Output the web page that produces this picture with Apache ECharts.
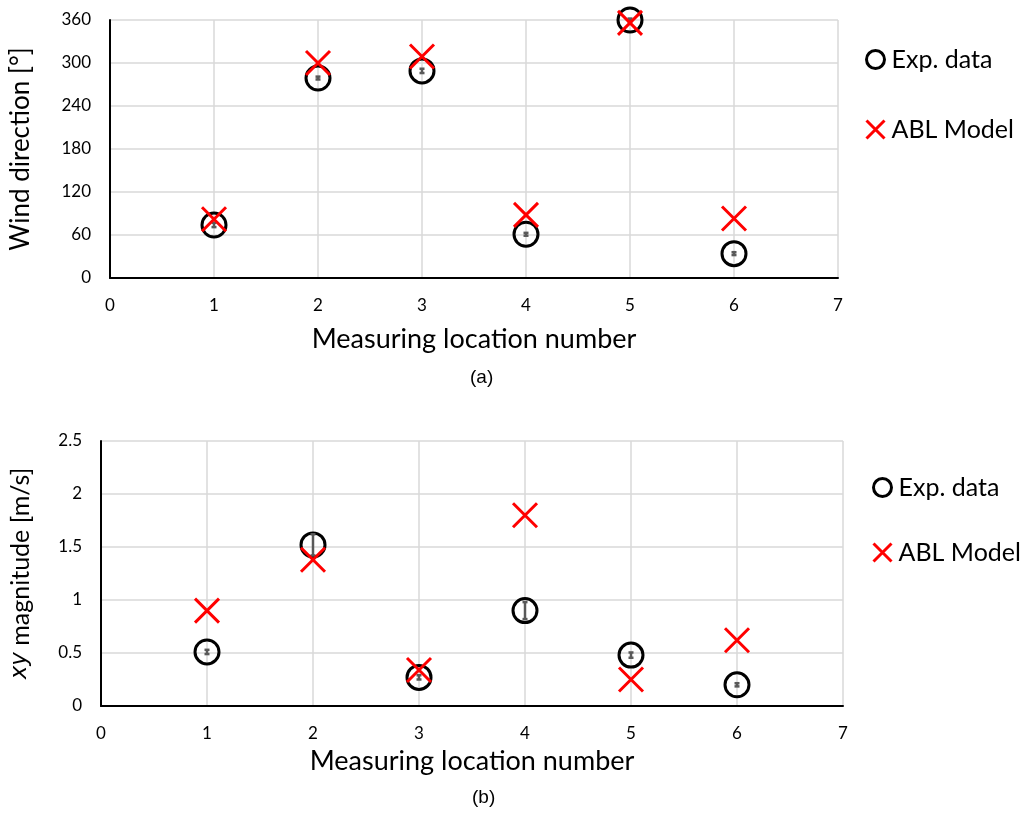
<!DOCTYPE html>
<html>
<head>
<meta charset="utf-8">
<script src="https://cdn.jsdelivr.net/npm/echarts@6/dist/echarts.min.js"></script>
<style>
  html, body { margin: 0; padding: 0; background: #fff; }
  #chart { width: 1035px; height: 814px; }
</style>
</head>
<body>
<div id="chart"></div>
<script>
// measuring locations
const locations = [1, 2, 3, 4, 5, 6]

// (a) wind direction [deg]
const dirExp = [74, 279, 289, 61, 360, 34]
const dirExpErr = [3, 2, 3, 2, 2, 2]
const dirModel = [82, 300, 309, 88, 356, 83]

// (b) xy magnitude [m/s]
const magExp = [0.51, 1.52, 0.27, 0.90, 0.48, 0.20]
const magExpErr = [0.02, 0.1, 0.02, 0.08, 0.025, 0.015]
const magModel = [0.90, 1.38, 0.34, 1.80, 0.25, 0.62]

const FONT = 'Lato'
const CROSS = 'path://M0,0L20,20M20,0L0,20'

const pairs = (ys) => locations.map((x, i) => [x, ys[i]])
const errPairs = (ys, es) => locations.map((x, i) => [x, ys[i] - es[i], ys[i] + es[i]])

function renderErr(params, api) {
  const x = api.value(0)
  const lo = api.coord([x, api.value(1)])
  const hi = api.coord([x, api.value(2)])
  const style = { stroke: '#595959', lineWidth: 2.5 }
  const cap = 2.5
  return {
    type: 'group',
    children: [
      { type: 'line', shape: { x1: lo[0], y1: lo[1], x2: hi[0], y2: hi[1] }, style },
      { type: 'line', shape: { x1: lo[0] - cap, y1: lo[1], x2: lo[0] + cap, y2: lo[1] }, style },
      { type: 'line', shape: { x1: hi[0] - cap, y1: hi[1], x2: hi[0] + cap, y2: hi[1] }, style },
    ],
  }
}

const xAxisBase = {
  type: 'value', min: 0, max: 7, interval: 1,
  name: 'Measuring location number', nameLocation: 'middle',
  nameTextStyle: { fontFamily: FONT, fontSize: 27, color: '#000' },
  axisLine: { show: true, onZero: false, lineStyle: { color: '#000', width: 2 } },
  axisTick: { show: false },
  axisLabel: { fontFamily: FONT, fontSize: 17, color: '#000', margin: 19 },
  splitLine: { show: true, lineStyle: { color: '#d9d9d9', width: 1.5 } },
}
const yAxisBase = {
  type: 'value', nameLocation: 'middle', nameRotate: 90,
  axisLine: { show: true, lineStyle: { color: '#000', width: 2 } },
  axisTick: { show: false },
  axisLabel: { fontFamily: FONT, fontSize: 17, color: '#000', margin: 19 },
  splitLine: { show: true, lineStyle: { color: '#d9d9d9', width: 1.5 } },
}

const expStyle = { color: 'transparent', borderColor: '#000', borderWidth: 3, opacity: 1 }
const modelStyle = { color: '#ff0000', borderColor: '#ff0000', borderWidth: 3, opacity: 1 }

function legendItem(name, left, top) {
  const isExp = name === 'Exp. data'
  return {
    left, top, orient: 'vertical', itemWidth: 18, itemHeight: 18, itemGap: 6,
    selectedMode: false,
    textStyle: { fontFamily: FONT, fontSize: 25, color: '#000', padding: [0, 0, 0, 2] },
    data: [{
      name,
      icon: isExp ? 'circle' : CROSS,
      itemStyle: isExp ? { color: 'transparent', borderColor: '#000', borderWidth: 3, opacity: 1 }
                       : { color: '#ff0000', borderColor: '#ff0000', borderWidth: 3, opacity: 1 },
    }],
  }
}

const chart = echarts.init(document.getElementById('chart'), null, { renderer: 'canvas' })
chart.setOption({
  backgroundColor: '#fff',
  animation: false,
  grid: [
    { left: 108, top: 20, width: 730, height: 258 },
    { left: 100, top: 441, width: 743, height: 265 },
  ],
  xAxis: [
    Object.assign({}, xAxisBase, { gridIndex: 0, nameGap: 48 }),
    Object.assign({}, xAxisBase, { gridIndex: 1, nameGap: 42 }),
  ],
  yAxis: [
    Object.assign({}, yAxisBase, {
      gridIndex: 0, min: 0, max: 360, interval: 60,
      name: 'Wind direction [°]', nameGap: 76,
      nameTextStyle: { fontFamily: FONT, fontSize: 26, color: '#000' },
    }),
    Object.assign({}, yAxisBase, {
      gridIndex: 1, min: 0, max: 2.5, interval: 0.5,
      name: '{i|xy} magnitude [m/s]', nameGap: 68,
      nameTextStyle: {
        fontFamily: FONT, fontSize: 25, color: '#000',
        rich: { i: { fontFamily: 'DejaVu Sans', fontSize: 23, fontStyle: 'oblique', color: '#000' } },
      },
    }),
  ],
  legend: [
    legendItem('Exp. data', 860, 42),
    legendItem('ABL Model', 860, 112),
    legendItem('Exp. data', 867, 470),
    legendItem('ABL Model', 867, 535),
  ],
  graphic: [
    { type: 'text', left: 470, top: 368, style: { text: '(a)', font: '19px "Liberation Sans"', fill: '#000' } },
    { type: 'text', left: 472, top: 788, style: { text: '(b)', font: '19px "Liberation Sans"', fill: '#000' } },
  ],
  series: [
    { name: 'Exp. data', type: 'scatter', xAxisIndex: 0, yAxisIndex: 0, symbol: 'circle', symbolSize: 24,
      itemStyle: expStyle, data: pairs(dirExp), z: 2 },
    { type: 'custom', xAxisIndex: 0, yAxisIndex: 0, renderItem: renderErr, data: errPairs(dirExp, dirExpErr), z: 3 },
    { name: 'ABL Model', type: 'scatter', xAxisIndex: 0, yAxisIndex: 0, symbol: CROSS, symbolSize: 24,
      itemStyle: modelStyle, data: pairs(dirModel), z: 4 },
    { name: 'Exp. data', type: 'scatter', xAxisIndex: 1, yAxisIndex: 1, symbol: 'circle', symbolSize: 24,
      itemStyle: expStyle, data: pairs(magExp), z: 2 },
    { type: 'custom', xAxisIndex: 1, yAxisIndex: 1, renderItem: renderErr, data: errPairs(magExp, magExpErr), z: 3 },
    { name: 'ABL Model', type: 'scatter', xAxisIndex: 1, yAxisIndex: 1, symbol: CROSS, symbolSize: 24,
      itemStyle: modelStyle, data: pairs(magModel), z: 4 },
  ],
})
</script>
</body>
</html>
